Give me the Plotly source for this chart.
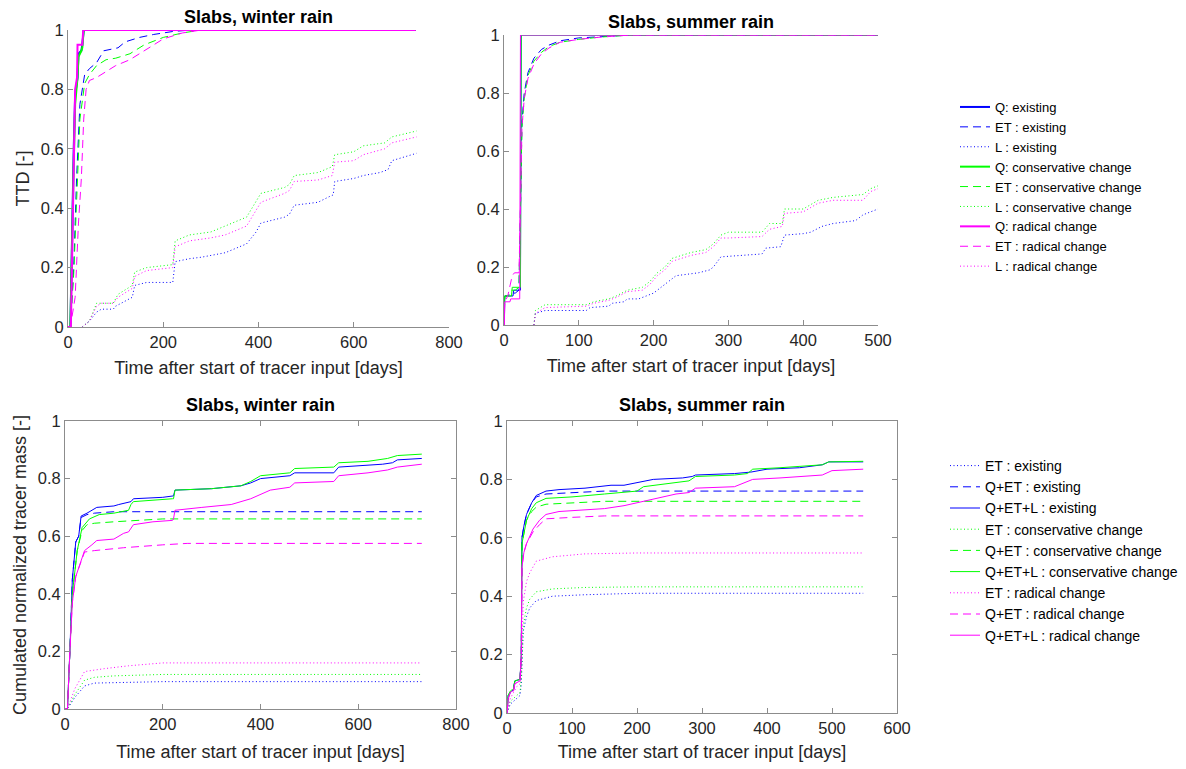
import plotly.graph_objects as go

# ---------------- DATA ----------------
# Top-left: TTD, winter rain
tw_q_ex_x = [0, 5, 12, 15, 20, 22, 28, 30, 33, 730]
tw_q_ex_y = [0, 0, 0.6, 0.78, 0.84, 0.92, 0.93, 0.95, 1, 1]
tw_q_co_x = [0, 5, 12, 15, 20, 22, 28, 30, 33, 730]
tw_q_co_y = [0, 0, 0.55, 0.75, 0.84, 0.91, 0.93, 0.94, 1, 1]
tw_q_ra_x = [0, 6, 15, 19, 20, 30, 32, 730]
tw_q_ra_y = [0, 0, 0.8, 0.84, 0.95, 0.95, 1, 1]
tw_et_ex_x = [0, 5, 12, 18, 25, 35, 45, 60, 75, 90, 105, 120, 150, 180, 220, 260, 730]
tw_et_ex_y = [0, 0, 0.2, 0.5, 0.75, 0.85, 0.87, 0.89, 0.93, 0.935, 0.94, 0.96, 0.975, 0.985, 0.995, 1, 1]
tw_et_co_x = [0, 5, 12, 18, 25, 35, 45, 60, 80, 100, 130, 160, 200, 240, 280, 730]
tw_et_co_y = [0, 0, 0.18, 0.45, 0.7, 0.82, 0.85, 0.88, 0.9, 0.905, 0.92, 0.95, 0.975, 0.99, 1, 1]
tw_et_ra_x = [0, 5, 15, 22, 28, 33, 38, 45, 60, 80, 100, 130, 160, 200, 240, 280, 730]
tw_et_ra_y = [0, 0, 0.1, 0.35, 0.5, 0.7, 0.8, 0.83, 0.84, 0.86, 0.88, 0.9, 0.93, 0.97, 0.99, 1, 1]
tw_l_ex_x = [30, 45, 60, 70, 95, 100, 135, 140, 165, 220, 225, 255, 280, 300, 330, 360, 375, 395, 405, 455,
             465, 475, 525, 550, 557, 560, 600, 620, 655, 672, 680, 732]
tw_l_ex_y = [0, 0.02, 0.05, 0.06, 0.06, 0.07, 0.1, 0.14, 0.15, 0.15, 0.22, 0.23, 0.235, 0.24, 0.25, 0.27,
             0.28, 0.32, 0.35, 0.37, 0.38, 0.41, 0.42, 0.44, 0.445, 0.49, 0.5, 0.51, 0.52, 0.53, 0.56, 0.585]
tw_l_co_x = [30, 45, 60, 70, 95, 105, 135, 140, 165, 220, 225, 255, 300, 330, 360, 375, 390, 405, 455, 465,
             475, 525, 555, 560, 600, 620, 665, 680, 732]
tw_l_co_y = [0, 0.02, 0.08, 0.08, 0.08, 0.11, 0.14, 0.185, 0.2, 0.21, 0.29, 0.31, 0.32, 0.34, 0.36, 0.37,
             0.41, 0.45, 0.47, 0.48, 0.51, 0.52, 0.54, 0.58, 0.59, 0.61, 0.62, 0.64, 0.66]
tw_l_ra_x = tw_l_co_x
tw_l_ra_y = [0, 0.02, 0.07, 0.08, 0.08, 0.1, 0.13, 0.17, 0.19, 0.2, 0.27, 0.29, 0.3, 0.31, 0.33, 0.34,
             0.38, 0.42, 0.45, 0.46, 0.49, 0.495, 0.51, 0.555, 0.56, 0.58, 0.6, 0.62, 0.64]

# Top-right: TTD, summer rain
ts_q_ex_x = [0, 0.5, 1, 12, 13, 22, 23, 500]
ts_q_ex_y = [0, 0, 0.1, 0.1, 0.12, 0.12, 1, 1]
ts_q_co_x = [0, 0.5, 1, 10, 11, 22, 23, 500]
ts_q_co_y = [0, 0, 0.1, 0.1, 0.13, 0.13, 1, 1]
ts_q_ra_x = [0, 0.5, 1, 8, 9, 21, 22, 500]
ts_q_ra_y = [0, 0, 0.08, 0.08, 0.09, 0.09, 1, 1]
ts_et_x = [0, 1, 5, 10, 15, 20, 22, 24, 27, 32, 40, 50, 60, 75, 100, 130, 170, 500]
ts_et_ex_y = [0, 0.1, 0.1, 0.11, 0.11, 0.12, 0.4, 0.7, 0.8, 0.87, 0.92, 0.95, 0.965, 0.98, 0.99, 0.995, 1, 1]
ts_et_co_y = [0, 0.1, 0.1, 0.12, 0.12, 0.13, 0.4, 0.68, 0.78, 0.86, 0.91, 0.94, 0.96, 0.975, 0.985, 0.993, 1, 1]
ts_et_ra_x = [0, 1, 5, 8, 11, 14, 20, 22, 24, 27, 32, 40, 50, 60, 75, 100, 130, 170, 500]
ts_et_ra_y = [0, 0.08, 0.1, 0.14, 0.17, 0.18, 0.18, 0.4, 0.68, 0.78, 0.85, 0.9, 0.935, 0.955, 0.975, 0.985,
              0.993, 1, 1]
ts_l_ex_x = [40, 42, 55, 110, 115, 140, 145, 160, 165, 180, 190, 200, 210, 220, 230, 260, 275, 280, 290, 345,
             350, 370, 375, 400, 410, 425, 440, 470, 480, 500]
ts_l_ex_y = [0, 0.04, 0.05, 0.05, 0.06, 0.065, 0.075, 0.08, 0.09, 0.09, 0.1, 0.11, 0.13, 0.15, 0.17, 0.18,
             0.19, 0.2, 0.235, 0.245, 0.265, 0.27, 0.31, 0.315, 0.32, 0.34, 0.35, 0.36, 0.38, 0.4]
ts_l_co_x = [40, 42, 55, 110, 120, 140, 150, 165, 185, 195, 205, 215, 225, 250, 270, 280, 290, 300, 345, 355,
             372, 375, 400, 420, 440, 480, 490, 500]
ts_l_co_y = [0, 0.05, 0.07, 0.07, 0.08, 0.09, 0.1, 0.12, 0.13, 0.15, 0.18, 0.2, 0.23, 0.25, 0.26, 0.28, 0.31,
             0.32, 0.32, 0.35, 0.35, 0.4, 0.4, 0.43, 0.44, 0.45, 0.47, 0.48]
ts_l_ra_x = ts_l_co_x
ts_l_ra_y = [0, 0.04, 0.06, 0.065, 0.075, 0.085, 0.095, 0.115, 0.12, 0.14, 0.17, 0.19, 0.22, 0.24, 0.25, 0.27,
             0.3, 0.3, 0.305, 0.33, 0.34, 0.385, 0.39, 0.42, 0.43, 0.43, 0.46, 0.47]

# Bottom-left: cumulated mass, winter rain
bw_qetl_ex_x = [0, 5, 10, 15, 22, 28, 33, 45, 65, 100, 110, 125, 135, 140, 200, 222, 225, 300, 360, 380, 400,
                460, 470, 550, 560, 650, 670, 680, 730]
bw_qetl_ex_y = [0, 0, 0.2, 0.45, 0.58, 0.6, 0.67, 0.68, 0.7, 0.705, 0.71, 0.715, 0.72, 0.73, 0.735, 0.74,
                0.76, 0.765, 0.775, 0.785, 0.8, 0.81, 0.82, 0.82, 0.84, 0.85, 0.855, 0.865, 0.87]
bw_qetl_co_x = [0, 5, 10, 15, 25, 35, 50, 70, 100, 130, 135, 140, 220, 222, 225, 300, 360, 380, 400, 460, 470,
                550, 560, 620, 660, 680, 730]
bw_qetl_co_y = [0, 0, 0.2, 0.4, 0.55, 0.63, 0.66, 0.675, 0.68, 0.69, 0.71, 0.72, 0.73, 0.73, 0.76, 0.765,
                0.775, 0.79, 0.81, 0.82, 0.835, 0.84, 0.855, 0.86, 0.87, 0.88, 0.885]
bw_qetl_ra_x = [0, 5, 10, 15, 22, 30, 40, 55, 65, 100, 120, 130, 140, 180, 220, 222, 225, 280, 340, 380, 420,
                460, 470, 550, 560, 620, 660, 680, 730]
bw_qetl_ra_y = [0, 0, 0.2, 0.37, 0.46, 0.5, 0.55, 0.57, 0.585, 0.59, 0.61, 0.615, 0.64, 0.65, 0.655, 0.66,
                0.69, 0.7, 0.71, 0.73, 0.76, 0.77, 0.785, 0.79, 0.81, 0.82, 0.83, 0.84, 0.85]
bw_qet_ex_x = [0, 5, 10, 15, 22, 28, 33, 45, 60, 100, 730]
bw_qet_ex_y = [0, 0, 0.2, 0.45, 0.58, 0.6, 0.665, 0.675, 0.68, 0.685, 0.685]
bw_qet_co_x = [0, 5, 10, 15, 25, 35, 45, 60, 100, 150, 200, 730]
bw_qet_co_y = [0, 0, 0.2, 0.4, 0.55, 0.62, 0.64, 0.645, 0.65, 0.655, 0.66, 0.66]
bw_qet_ra_x = [0, 5, 10, 15, 22, 30, 40, 60, 120, 200, 250, 730]
bw_qet_ra_y = [0, 0, 0.2, 0.37, 0.46, 0.5, 0.545, 0.55, 0.56, 0.57, 0.575, 0.575]
bw_et_x = [0, 5, 20, 40, 60, 100, 200, 730]
bw_et_ex_y = [0, 0, 0.04, 0.08, 0.09, 0.092, 0.095, 0.095]
bw_et_co_y = [0, 0, 0.05, 0.1, 0.11, 0.115, 0.12, 0.12]
bw_et_ra_x = [0, 5, 20, 40, 80, 130, 200, 730]
bw_et_ra_y = [0, 0, 0.07, 0.13, 0.14, 0.15, 0.16, 0.16]

# Bottom-right: cumulated mass, summer rain
bs_qetl_ex_x = [0, 1, 2, 5, 8, 10, 12, 20, 22, 23, 26, 30, 38, 45, 60, 80, 120, 160, 180, 200, 225, 270, 285,
                290, 350, 375, 400, 450, 485, 495, 548]
bs_qetl_ex_y = [0, 0.02, 0.06, 0.07, 0.075, 0.08, 0.11, 0.115, 0.2, 0.6, 0.64, 0.68, 0.72, 0.745, 0.76,
                0.765, 0.77, 0.78, 0.78, 0.79, 0.8, 0.805, 0.81, 0.815, 0.82, 0.825, 0.835, 0.84, 0.85, 0.86, 0.86]
bs_qetl_co_x = [0, 1, 2, 5, 8, 10, 12, 20, 22, 23, 26, 30, 38, 45, 60, 100, 150, 200, 210, 230, 280, 290, 350,
                370, 378, 420, 450, 485, 495, 548]
bs_qetl_co_y = [0, 0.02, 0.06, 0.075, 0.08, 0.08, 0.11, 0.115, 0.2, 0.58, 0.62, 0.66, 0.7, 0.72, 0.735, 0.74,
                0.75, 0.76, 0.775, 0.78, 0.795, 0.81, 0.815, 0.82, 0.835, 0.84, 0.845, 0.85, 0.86, 0.862]
bs_qetl_ra_x = [0, 1, 2, 5, 8, 10, 12, 20, 22, 23, 26, 30, 40, 50, 60, 80, 120, 150, 180, 200, 220, 260, 280,
                290, 350, 378, 420, 450, 485, 500, 548]
bs_qetl_ra_y = [0, 0.02, 0.05, 0.07, 0.075, 0.075, 0.1, 0.11, 0.2, 0.5, 0.55, 0.58, 0.63, 0.66, 0.68, 0.69,
                0.695, 0.7, 0.71, 0.72, 0.73, 0.75, 0.755, 0.77, 0.775, 0.8, 0.805, 0.81, 0.815, 0.83, 0.835]
bs_qet_x = [0, 1, 2, 5, 8, 10, 12, 20, 22, 23, 26, 30, 38, 45, 60, 100, 150, 548]
bs_qet_ex_y = [0, 0.02, 0.06, 0.07, 0.075, 0.08, 0.11, 0.115, 0.2, 0.6, 0.64, 0.68, 0.72, 0.74, 0.75, 0.755,
               0.76, 0.76]
bs_qet_co_y = [0, 0.02, 0.06, 0.075, 0.08, 0.08, 0.11, 0.115, 0.2, 0.58, 0.62, 0.66, 0.69, 0.705, 0.715, 0.72,
               0.725, 0.725]
bs_qet_ra_x = [0, 1, 2, 5, 8, 10, 12, 20, 22, 23, 26, 30, 40, 50, 60, 100, 150, 548]
bs_qet_ra_y = [0, 0.02, 0.05, 0.07, 0.075, 0.075, 0.1, 0.11, 0.2, 0.5, 0.55, 0.58, 0.62, 0.645, 0.665, 0.67,
               0.675, 0.675]
bs_et_x = [0, 5, 10, 15, 20, 22, 25, 30, 35, 45, 70, 120, 200, 548]
bs_et_ex_y = [0, 0.03, 0.04, 0.05, 0.06, 0.1, 0.28, 0.33, 0.36, 0.385, 0.4, 0.405, 0.41, 0.41]
bs_et_co_y = [0, 0.04, 0.05, 0.06, 0.07, 0.12, 0.3, 0.36, 0.39, 0.415, 0.425, 0.43, 0.432, 0.432]
bs_et_ra_y = [0, 0.05, 0.07, 0.09, 0.1, 0.15, 0.38, 0.45, 0.48, 0.52, 0.535, 0.545, 0.548, 0.548]

# labels
scenarios = ["existing", "conservative change", "radical change"]
top_names = ["Q: ", "ET : ", "L : "]
bot_names = ["ET : ", "Q+ET : ", "Q+ET+L : "]

# ---------------- STYLE ----------------
BLUE, GREEN, MAG = "#0000FF", "#00FF00", "#FF00FF"
colors = [BLUE, GREEN, MAG]
DASH = "8px,5px"
DOT = "1px,2.5px"
FONT = "Liberation Sans, Arial, sans-serif"
TXT = "#262626"
AX = "#8c8c8c"

fig = go.Figure()


def add(x, y, xa, ya, color, dash, name, legend, show, width=1.0):
    fig.add_trace(go.Scatter(
        x=x, y=y, mode="lines", xaxis=xa, yaxis=ya, name=name,
        line=dict(color=color, dash=dash, width=width),
        legend=legend, showlegend=show, legendgroup=name + legend,
        hoverinfo="skip"))


tl = [
    [(tw_q_ex_x, tw_q_ex_y), (tw_et_ex_x, tw_et_ex_y), (tw_l_ex_x, tw_l_ex_y)],
    [(tw_q_co_x, tw_q_co_y), (tw_et_co_x, tw_et_co_y), (tw_l_co_x, tw_l_co_y)],
    [(tw_q_ra_x, tw_q_ra_y), (tw_et_ra_x, tw_et_ra_y), (tw_l_ra_x, tw_l_ra_y)],
]
tr = [
    [(ts_q_ex_x, ts_q_ex_y), (ts_et_x, ts_et_ex_y), (ts_l_ex_x, ts_l_ex_y)],
    [(ts_q_co_x, ts_q_co_y), (ts_et_x, ts_et_co_y), (ts_l_co_x, ts_l_co_y)],
    [(ts_q_ra_x, ts_q_ra_y), (ts_et_ra_x, ts_et_ra_y), (ts_l_ra_x, ts_l_ra_y)],
]
dashes_top = ["solid", DASH, DOT]
for s in range(3):
    for k in range(3):
        x, y = tl[s][k]
        w = 2.0 if k == 0 else 1.0
        add(x, y, "x", "y", colors[s], dashes_top[k], top_names[k] + scenarios[s], "legend", True, w)
for s in range(3):
    for k in range(3):
        x, y = tr[s][k]
        add(x, y, "x2", "y2", colors[s], dashes_top[k], top_names[k] + scenarios[s], "legend", False)

bl = [
    [(bw_et_x, bw_et_ex_y), (bw_qet_ex_x, bw_qet_ex_y), (bw_qetl_ex_x, bw_qetl_ex_y)],
    [(bw_et_x, bw_et_co_y), (bw_qet_co_x, bw_qet_co_y), (bw_qetl_co_x, bw_qetl_co_y)],
    [(bw_et_ra_x, bw_et_ra_y), (bw_qet_ra_x, bw_qet_ra_y), (bw_qetl_ra_x, bw_qetl_ra_y)],
]
br = [
    [(bs_et_x, bs_et_ex_y), (bs_qet_x, bs_qet_ex_y), (bs_qetl_ex_x, bs_qetl_ex_y)],
    [(bs_et_x, bs_et_co_y), (bs_qet_x, bs_qet_co_y), (bs_qetl_co_x, bs_qetl_co_y)],
    [(bs_et_x, bs_et_ra_y), (bs_qet_ra_x, bs_qet_ra_y), (bs_qetl_ra_x, bs_qetl_ra_y)],
]
dashes_bot = [DOT, DASH, "solid"]
for s in range(3):
    for k in range(3):
        x, y = bl[s][k]
        add(x, y, "x3", "y3", colors[s], dashes_bot[k], bot_names[k] + scenarios[s], "legend2", True)
for s in range(3):
    for k in range(3):
        x, y = br[s][k]
        add(x, y, "x4", "y4", colors[s], dashes_bot[k], bot_names[k] + scenarios[s], "legend2", False)

W, H = 1186, 769


def px_dom_x(a, b):
    return [a / W, b / W]


def px_dom_y(top, bottom):
    return [1 - bottom / H, 1 - top / H]


def xax(dom, rng, dtick, anchor, mirror, standoff):
    return dict(domain=dom, range=rng, dtick=dtick, tick0=0, anchor=anchor, showgrid=False,
                zeroline=False, showline=True, linecolor=AX, linewidth=1, mirror=mirror,
                ticks="inside", ticklen=5, tickcolor=AX,
                tickfont=dict(size=16.5, color=TXT, family=FONT),
                title=dict(text="Time after start of tracer input [days]",
                           font=dict(size=18, color=TXT, family=FONT), standoff=standoff))


def yax(dom, anchor, mirror, title, standoff):
    return dict(domain=dom, range=[0, 1], dtick=0.2, tick0=0, anchor=anchor, showgrid=False,
                zeroline=False, showline=True, linecolor=AX, linewidth=1, mirror=mirror,
                ticks="inside", ticklen=5, tickcolor=AX,
                tickfont=dict(size=16.5, color=TXT, family=FONT),
                title=dict(text=title, font=dict(size=18, color=TXT, family=FONT), standoff=standoff))


fig.update_layout(
    width=W, height=H, margin=dict(l=0, r=0, t=0, b=0, autoexpand=False),
    paper_bgcolor="white", plot_bgcolor="white",
    font=dict(family=FONT, color=TXT),
    xaxis=xax(px_dom_x(68, 449), [0, 800], 200, "y", False, 11),
    yaxis=yax(px_dom_y(30, 327), "x", False, "TTD [-]", 6),
    xaxis2=xax(px_dom_x(504, 878), [0, 500], 100, "y2", False, 11),
    yaxis2=yax(px_dom_y(35, 325), "x2", False, "", 6),
    xaxis3=xax(px_dom_x(65, 456), [0, 800], 200, "y3", "ticks", 13),
    yaxis3=yax(px_dom_y(421, 709), "x3", "ticks", "Cumulated normalized tracer mass [-]", 6),
    xaxis4=xax(px_dom_x(507, 897), [0, 600], 100, "y4", "ticks", 9),
    yaxis4=yax(px_dom_y(421, 713), "x4", "ticks", "", 6),
    legend=dict(x=955 / W, y=1 - 92 / H, xanchor="left", yanchor="top",
                font=dict(size=13, color="#000000", family=FONT), bgcolor="rgba(0,0,0,0)",
                tracegroupgap=0, traceorder="grouped"),
    legend2=dict(x=945 / W, y=1 - 450 / H, xanchor="left", yanchor="top",
                 font=dict(size=14, color="#000000", family=FONT), bgcolor="rgba(0,0,0,0)",
                 tracegroupgap=0, traceorder="grouped"),
)

titles = [("Slabs, winter rain", 258, 17), ("Slabs, summer rain", 691, 22),
          ("Slabs, winter rain", 260, 405), ("Slabs, summer rain", 702, 405)]
for t, cx, cy in titles:
    fig.add_annotation(text="<b>" + t + "</b>", x=cx / W, y=1 - cy / H, xref="paper", yref="paper",
                       xanchor="center", yanchor="middle", showarrow=False,
                       font=dict(size=18, color="#000000", family=FONT))

fig.write_html("out.html")
